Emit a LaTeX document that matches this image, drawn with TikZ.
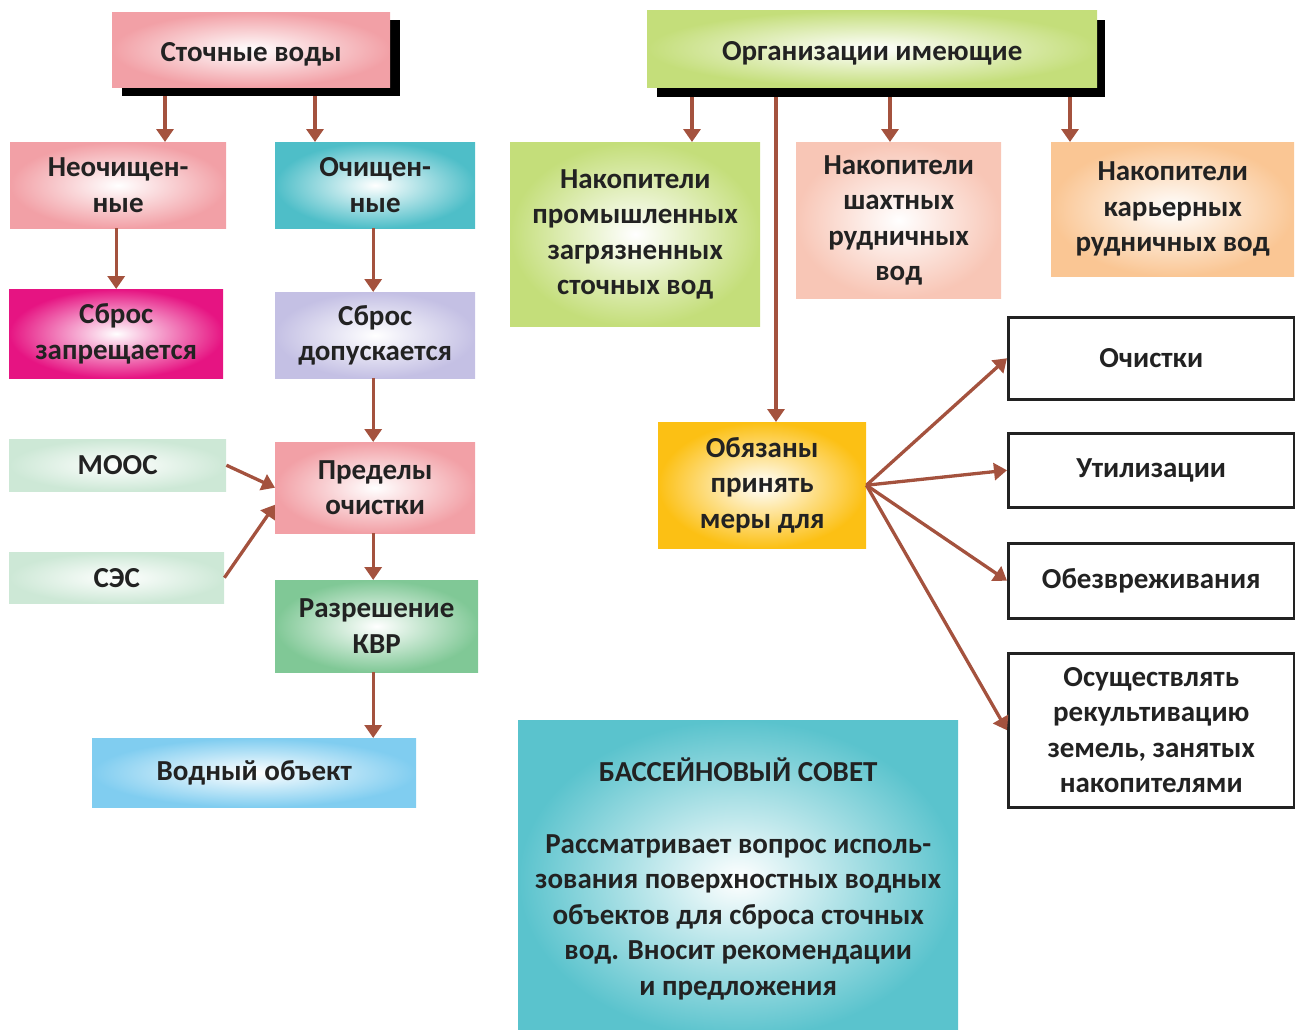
\documentclass[tikz,border=0pt]{standalone}
\usepackage{fontspec}
\setmainfont{Carlito}
\usetikzlibrary{arrows.meta,calc}
\definecolor{cPink}{RGB}{242,160,166}
\definecolor{cTeal}{RGB}{78,190,200}
\definecolor{cMag}{RGB}{230,20,130}
\definecolor{cLav}{RGB}{196,192,228}
\definecolor{cLgreen}{RGB}{205,232,214}
\definecolor{cGreen}{RGB}{128,200,150}
\definecolor{cBlue}{RGB}{128,205,240}
\definecolor{cLime}{RGB}{196,222,122}
\definecolor{cPeach}{RGB}{248,198,182}
\definecolor{cOrange}{RGB}{250,198,148}
\definecolor{cGold}{RGB}{252,192,20}
\definecolor{cSea}{RGB}{90,195,205}
\definecolor{cArrow}{RGB}{164,82,62}
\definecolor{cText}{RGB}{34,34,34}
\tikzset{
  box/.style={inner sep=0pt, anchor=north west, align=center, text=cText,
    font=\bfseries\fontsize{29}{35.5}\selectfont},
  shade box/.style={box, inner color=white, outer color=#1},
  line box/.style={box, draw=cText, line width=2.5pt, fill=white},
  shadowbox/.style={anchor=north west, fill=black, inner sep=0pt},
  arr/.style={draw=cArrow, line width=3.3pt, -{Triangle[length=13pt,width=17pt]}}
}
\begin{document}
\begin{tikzpicture}[x=1pt,y=-1pt]
\useasboundingbox (0,0) rectangle (1295,1029);
% headers with shadows
\node[shadowbox, minimum width=278pt, minimum height=76pt] (s1) at (122,20) {};
\node[shade box=cPink, minimum width=278pt, minimum height=75pt] (h1) at (112,12) {\raisebox{-5pt}[\height][\depth]{Сточные воды}};
\node[shadowbox, minimum width=448pt, minimum height=77pt] (s2) at (657,20) {};
\node[shade box=cLime, minimum width=450pt, minimum height=77pt] (h2) at (647,10) {\raisebox{-5pt}[\height][\depth]{Организации имеющие}};
% left column
\node[shade box=cPink, minimum width=216pt, minimum height=86pt] (n1) at (10,142) {Неочищен-\\ные};
\node[shade box=cTeal, minimum width=200pt, minimum height=86pt] (n2) at (275,142) {Очищен-\\ные};
\node[shade box=cMag, minimum width=214pt, minimum height=89pt] (z1) at (9,289) {Сброс\\запрещается};
\node[shade box=cLav, minimum width=200pt, minimum height=86pt] (z2) at (275,292) {Сброс\\допускается};
\node[shade box=cLgreen, minimum width=217pt, minimum height=52pt] (moos) at (9,439) {МООС};
\node[shade box=cLgreen, minimum width=215pt, minimum height=51pt] (ses) at (9,552) {СЭС};
\node[shade box=cPink, minimum width=200pt, minimum height=91pt] (pr) at (275,442) {Пределы\\очистки};
\node[shade box=cGreen, minimum width=203pt, minimum height=92pt] (kvr) at (275,580) {Разрешение\\КВР};
\node[shade box=cBlue, minimum width=324pt, minimum height=69pt] (vo) at (92,738) {Водный объект};
% right part
\node[shade box=cLime, minimum width=250pt, minimum height=184pt] (k1) at (510,142) {Накопители\\промышленных\\загрязненных\\сточных вод};
\node[shade box=cPeach, minimum width=205pt, minimum height=156pt] (k2) at (796,142) {Накопители\\шахтных\\рудничных\\вод};
\node[shade box=cOrange, minimum width=243pt, minimum height=134pt] (k3) at (1051,142) {Накопители\\карьерных\\рудничных вод};
\node[shade box=cGold, minimum width=208pt, minimum height=126pt] (ob) at (658,422) {Обязаны\\принять\\меры для};
\node[line box, minimum width=286pt, minimum height=82pt] (r1) at (1007,316) {Очистки};
\node[line box, minimum width=286pt, minimum height=74pt] (r2) at (1007,432) {Утилизации};
\node[line box, minimum width=286pt, minimum height=75pt] (r3) at (1007,542) {Обезвреживания};
\node[line box, minimum width=286pt, minimum height=154pt] (r4) at (1007,652) {Осуществлять\\рекультивацию\\земель, занятых\\накопителями};
\node[shade box=cSea, minimum width=440pt, minimum height=318pt] (bs) at (518,720) {БАССЕЙНОВЫЙ СОВЕТ\\[36pt]Рассматривает вопрос исполь-\\зования поверхностных водных\\объектов для сброса сточных\\вод. Вносит рекомендации\\и предложения};
% arrows from headers
\draw[arr] ([xshift=43pt]s1.south west) -- ([xshift=43pt]s1.south west |- n1.north);
\draw[arr] ([xshift=193pt]s1.south west) -- ([xshift=193pt]s1.south west |- n2.north);
\draw[arr] ([xshift=35pt]s2.south west) -- ([xshift=35pt]s2.south west |- k1.north);
\draw[arr] ([xshift=119pt]s2.south west) -- ([xshift=119pt]s2.south west |- ob.north);
\draw[arr] ([xshift=233pt]s2.south west) -- ([xshift=233pt]s2.south west |- k2.north);
\draw[arr] ([xshift=413pt]s2.south west) -- ([xshift=413pt]s2.south west |- k3.north);
% left chain
\draw[arr] ([xshift=-2pt]n1.south) -- ([xshift=-2pt]n1.south |- z1.north);
\draw[arr] ([xshift=-2pt]n2.south) -- ([xshift=-2pt]n2.south |- z2.north);
\draw[arr] ([xshift=-2pt]z2.south) -- ([xshift=-2pt]z2.south |- pr.north);
\draw[arr] ([xshift=-2pt]pr.south) -- ([xshift=-2pt]pr.south |- kvr.north);
\draw[arr] ([xshift=-2pt]pr.south |- kvr.south) -- ([xshift=-2pt]pr.south |- vo.north);
\draw[arr] (moos.east) -- (pr.west);
\draw[arr] (ses.east) -- ([yshift=-17pt]pr.west);
% right fan
\draw[arr] (ob.east) -- (r1.west);
\draw[arr] (ob.east) -- (r2.west);
\draw[arr] (ob.east) -- (r3.west);
\draw[arr] (ob.east) -- (r4.west);
\end{tikzpicture}
\end{document}
